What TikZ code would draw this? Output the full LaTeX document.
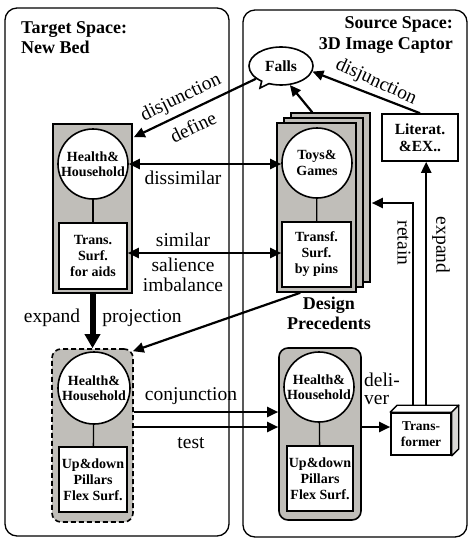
\documentclass[tikz,border=0pt]{standalone}
\usepackage{fontspec}
\setmainfont{Liberation Serif}
\usetikzlibrary{arrows.meta,calc,shapes.callouts}
\definecolor{boxgray}{RGB}{192,190,185}
\newcommand{\fsz}[2]{\fontsize{#1}{#2}\selectfont}
\begin{document}
\begin{tikzpicture}[x=1pt,y=-1pt,
 panel/.style={draw,line width=1.3pt,rounded corners=12pt,inner sep=0pt},
 gbox/.style={draw,fill=boxgray,line width=1.6pt,inner sep=0pt},
 hcirc/.style={circle,draw,fill=white,line width=1.6pt,minimum size=70pt,inner sep=0pt,align=center,font=\bfseries\fsz{14}{15.5}},
 ibox/.style={draw,fill=white,line width=1.6pt,inner sep=0pt,align=center,font=\bfseries\fsz{14}{16}},
 arr/.style={line width=2.2pt,-{Triangle[length=11pt,width=10pt]}},
 darr/.style={line width=2.2pt,{Triangle[length=11pt,width=10pt]}-{Triangle[length=11pt,width=10pt]}},
 lbl/.style={font=\fsz{19.5}{21},inner sep=0pt},
 ttl/.style={font=\bfseries\fsz{18}{20.5},inner sep=0pt},
 link/.style={line width=1.3pt}]
\useasboundingbox (0,0) rectangle (474,542);
% panels
\node[panel,minimum width=224pt,minimum height=528pt] (tsp) at (117,272) {};
\node[panel,minimum width=224pt,minimum height=527pt] (ssp) at (355,273.5) {};
\node[ttl,anchor=west,align=left] (ttitle) at (21,37.5) {Target Space:\\New Bed};
\node[ttl,anchor=east,align=right] (stitle) at (453,35) {Source Space:\\3D Image Captor};
% Falls
\node[ellipse callout,draw,fill=white,line width=1.6pt,minimum width=64pt,minimum height=38pt,inner sep=0pt,
  callout absolute pointer={(260,88)},font=\bfseries\fsz{15.5}{17}] (falls) at (281,66) {Falls};
% Health 1
\node[gbox,minimum width=79pt,minimum height=169pt] (h1) at (92.5,208.5) {};
\node[hcirc] (h1c) at (93,164) {Health\&\\Household};
\node[ibox,minimum width=68pt,minimum height=66pt] (h1b) at (93,256) {Trans.\\Surf.\\for aids};
\draw[link] (h1c) -- (h1b);
% stack
\node[gbox,minimum width=79pt,minimum height=169pt] (t3) at (330.5,197.5) {};
\node[gbox,minimum width=79pt,minimum height=169pt] (t2) at (323.5,202.5) {};
\node[gbox,minimum width=79pt,minimum height=169pt] (t1) at (316.5,207.5) {};
\node[hcirc] (t1c) at (317,163) {Toys\&\\Games};
\node[ibox,minimum width=69pt,minimum height=65pt] (t1b) at (316.5,254.5) {Transf.\\Surf.\\by pins};
\draw[link] (t1c) -- (t1b);
\node[font=\bfseries\fsz{18}{20},align=center,inner sep=0pt] (dp) at (329,313) {Design\\Precedents};
% Literat
\node[draw,fill=white,line width=1.6pt,minimum width=76pt,minimum height=47pt,inner sep=0pt,align=center,font=\bfseries\fsz{15.5}{17}] (lit) at (420,137.5) {Literat.\\\&EX..};
% Health 2
\node[gbox,dashed,dash pattern=on 5pt off 3pt,rounded corners=9pt,minimum width=81pt,minimum height=173pt] (h2) at (92.5,435.5) {};
\node[hcirc,minimum size=72pt] (h2c) at (94,388) {Health\&\\Household};
\node[ibox,minimum width=68pt,minimum height=65pt] (h2b) at (93,479.5) {Up\&down\\Pillars\\Flex Surf.};
\draw[link] (h2c) -- (h2b);
% Health 3
\node[gbox,rounded corners=9pt,minimum width=82pt,minimum height=172pt] (h3) at (320,434) {};
\node[hcirc] (h3c) at (319,387) {Health\&\\Household};
\node[ibox,minimum width=66pt,minimum height=65pt] (h3b) at (320,478.5) {Up\&down\\Pillars\\Flex Surf.};
\draw[link] (h3c) -- (h3b);
% Transformer
\node[draw,fill=white,line width=1.6pt,minimum width=60pt,minimum height=42pt,inner sep=0pt,align=center,font=\bfseries\fsz{13.5}{16}] (tr) at (421,434) {Trans-\\former};
\draw[line width=1.3pt,fill=white,line join=round] (tr.north west) -- ++(7,-7) -- ($(tr.north east)+(7,-7)$) -- (tr.north east) -- cycle;
\draw[line width=1.3pt,fill=boxgray!60,line join=round] (tr.north east) -- ++(7,-7) -- ($(tr.south east)+(7,-7)$) -- (tr.south east) -- cycle;
% connectors
\draw[arr] (falls.207) -- ($(h1.north east)+(1,14)$);
\node[lbl,rotate=26] (l1) at (181,98) {disjunction};
\node[lbl,rotate=26] (l2) at (193,127) {define};
\draw[darr] (h1c.east) -- (h1c.east -| t1c.west);
\node[lbl] (l3) at (183,178) {dissimilar};
\coordinate (s1) at ($(h1b.east)+(0,-3)$);
\draw[darr] (s1) -- (s1 -| t1b.west);
\node[lbl] (l4) at (183,240) {similar};
\node[lbl] (l5) at (183,265) {salience};
\node[lbl] (l6) at (183,285) {imbalance};
\draw[line width=6pt,-{Triangle[length=14pt,width=15pt]}] (h1.south) -- (h2.north);
\node[lbl] (l7) at (52,318) {expand};
\node[lbl] (l8) at (142,318) {projection};
\coordinate (ps) at ($(t1.south west)+(24,0)$);
\draw[arr] (ps) -- ($(h2.north east)+(-1,3)$);
\coordinate (fs) at ($(t3.north west)+(22,0)$);
\draw[arr] (fs) -- (falls.295);
\draw[arr] (lit.north) -- (falls.350);
\node[lbl,rotate=-24.5] (l9) at (376,82) {disjunction};
\coordinate (ra) at ($(tr.north west)+(23,-7)$);
\coordinate (ea) at ($(tr.north west)+(36,-7)$);
\coordinate (rt) at ($(t3.east)+(1,5.5)$);
\draw[arr] (ra) |- (rt);
\draw[arr] (ea) -- (ea |- lit.south);
\node[lbl,rotate=-90] (l10) at (404,243) {retain};
\node[lbl,rotate=-90] (l11) at (441,245) {expand};
\coordinate (c1) at ($(h2.east)+(0,-23.5)$);
\draw[arr] (c1) -- (c1 -| h3.west);
\coordinate (c2) at ($(h2.east)+(0,-8.5)$);
\draw[arr] (c2) -- (c2 -| h3.west);
\node[lbl] (l12) at (191,396) {conjunction};
\node[lbl] (l13) at (191,443) {test};
\coordinate (d1) at ($(h3.east)+(0,-7)$);
\draw[arr] (d1) -- (d1 -| tr.west);
\node[lbl,align=left,font=\fsz{19.5}{18}] (l14) at (382,389) {deli-\\ver};
\end{tikzpicture}
\end{document}
